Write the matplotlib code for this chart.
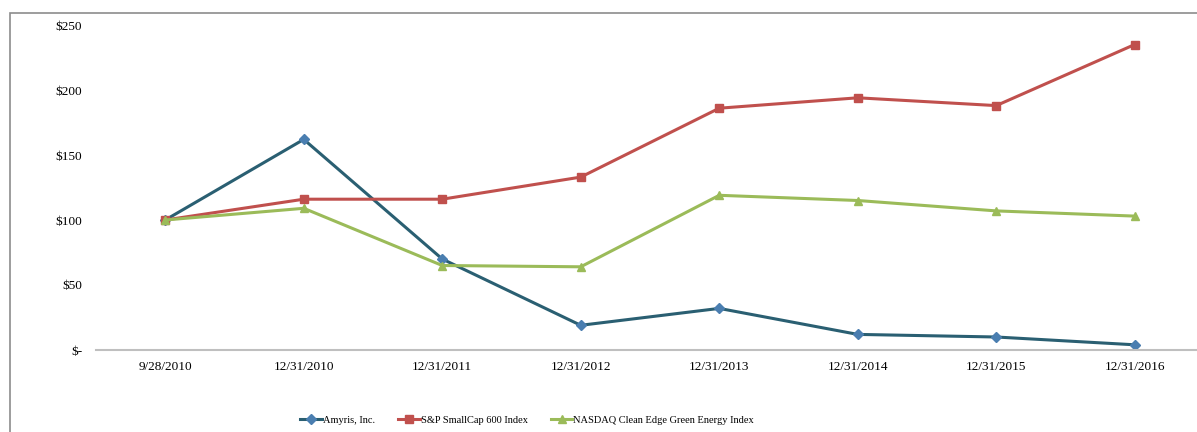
import matplotlib.pyplot as plt
from matplotlib.patches import Rectangle

# ---- data ----
dates = ['9/28/2010', '12/31/2010', '12/31/2011', '12/31/2012',
         '12/31/2013', '12/31/2014', '12/31/2015', '12/31/2016']
amyris = [100, 162, 70, 19, 32, 12, 10, 4]
sp600 = [100, 116, 116, 133, 186, 194, 188, 235]
nasdaq_ceg = [100, 109, 65, 64, 119, 115, 107, 103]
y_ticks = [0, 50, 100, 150, 200, 250]
y_labels = ['$-', '$50', '$100', '$150', '$200', '$250']

plt.rcParams['font.family'] = ['Liberation Serif', 'DejaVu Serif']

W, H = 1197, 432
fig = plt.figure(figsize=(W / 100, H / 100), dpi=100, facecolor='white')

# axes placed in pixel terms
left, right, bottom, top = 96, 1204, 350, 25
ax = fig.add_axes([left / W, 1 - bottom / H, (right - left) / W, (bottom - top) / H])

x = list(range(len(dates)))
ax.plot(x, amyris, color='#2A5F72', lw=2.2, marker='D', ms=5,
        mfc='#4A7EB0', mec='#4A7EB0', label='Amyris, Inc.')
ax.plot(x, sp600, color='#C0504D', lw=2.2, marker='s', ms=6,
        mfc='#C0504D', mec='#C0504D', label='S&P SmallCap 600 Index')
ax.plot(x, nasdaq_ceg, color='#9BBB59', lw=2.2, marker='^', ms=6,
        mfc='#9BBB59', mec='#9BBB59', label='NASDAQ Clean Edge Green Energy Index')

ax.set_xlim(-0.5, len(dates) - 0.5)
ax.set_ylim(0, 250)
ax.set_xticks(x)
ax.set_xticklabels(dates, fontsize=9.5)
ax.set_yticks(y_ticks)
ax.set_yticklabels(y_labels, fontsize=9.5)
ax.tick_params(length=0)
ax.tick_params(axis='x', pad=8)
ax.tick_params(axis='y', pad=10)
for s in ['top', 'right', 'left']:
    ax.spines[s].set_visible(False)
ax.spines['bottom'].set_color('#BFBFBF')
ax.spines['bottom'].set_linewidth(1.5)

fig.legend(loc='center', bbox_to_anchor=(527 / W, 1 - 420 / H), ncol=3,
           frameon=False, fontsize=7.5, handlelength=2.1, columnspacing=2.2,
           handletextpad=0.1)

# outer chart border
fig.patches.append(Rectangle((10 / W, -0.1), 1.2, 1 - 13 / H + 0.1,
                             transform=fig.transFigure, fill=False,
                             edgecolor='#8C8C8C', lw=1.2))

fig.savefig('out.png', dpi=100)
